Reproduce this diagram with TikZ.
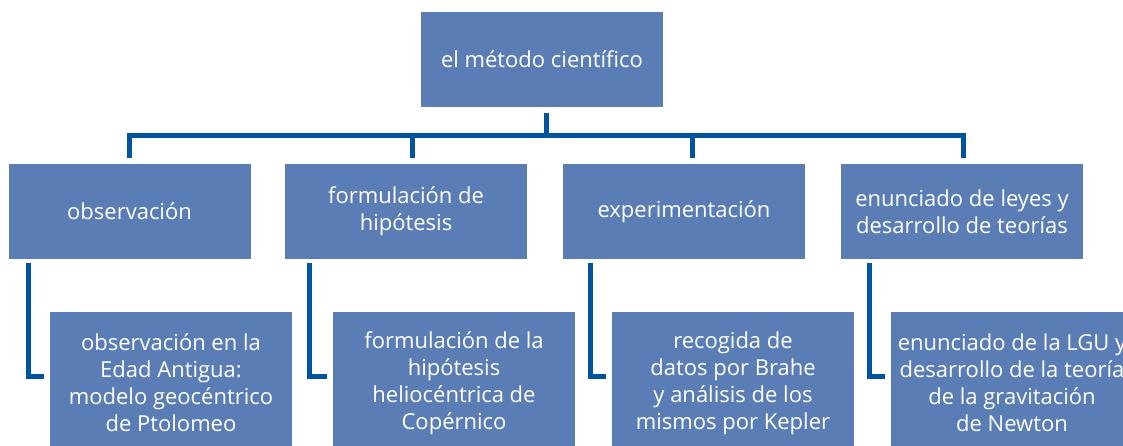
\documentclass[tikz,border=0pt]{standalone}
\usepackage{fontspec}
\setmainfont{Open Sans}
\definecolor{boxblue}{RGB}{91,125,181}
\definecolor{lineblue}{RGB}{0,84,159}
\begin{document}
\begin{tikzpicture}[x=1pt,y=-1pt,
  box/.style={fill=boxblue, text=white, minimum width=242pt, minimum height=95pt, inner sep=0pt, align=center, font=\fontsize{22}{27}\selectfont},
  leaf/.style={box, minimum height=142pt},
  conn/.style={draw=lineblue, line width=5pt, line join=miter, line cap=butt}]
\useasboundingbox (0,0) rectangle (1123,445);
\clip (0,0) rectangle (1123,445);
\node[box] (top) at (542,59.5) {el método científico};
\node[box] (l1) at (129.5,211.5) {observación};
\node[box] (l2) at (406,211.5) {formulación de\\hipótesis};
\node[box] (l3) at (684,211.5) {experimentación};
\node[box] (l4) at (962,211.5) {enunciado de leyes y\\desarrollo de teorías};
\node[leaf] (b1) at (171,383) {observación en la\\Edad Antigua:\\modelo geocéntrico\\de Ptolomeo};
\node[leaf] (b2) at (454,383) {formulación de la\\hipótesis\\heliocéntrica de\\Copérnico};
\node[leaf] (b3) at (733,383) {recogida de\\datos por Brahe\\y análisis de los\\mismos por Kepler};
\node[leaf] (b4) at (1012,383) {enunciado de la LGU y\\desarrollo de la teoría\\de la gravitación\\de Newton};
\coordinate (j) at (546.5,135.5);
\draw[conn] ([xshift=4.5pt,yshift=-6pt]top.south) -- (j);
\draw[conn] ([yshift=6pt]l1.north) |- (j) -| ([xshift=1.5pt,yshift=6pt]l4.north);
\draw[conn] ([xshift=6.5pt,yshift=6pt]l2.north) -- ([xshift=6.5pt]l2.north |- j);
\draw[conn] ([xshift=8.5pt,yshift=6pt]l3.north) -- ([xshift=8.5pt]l3.north |- j);
\draw[conn] ([xshift=20.5pt,yshift=-4pt]l1.south west) |- ([xshift=-6pt,yshift=6.5pt]b1.west);
\draw[conn] ([xshift=24.5pt,yshift=-4pt]l2.south west) |- ([xshift=-6pt,yshift=6.5pt]b2.west);
\draw[conn] ([xshift=28pt,yshift=-4pt]l3.south west) |- ([xshift=-6pt,yshift=6.5pt]b3.west);
\draw[conn] ([xshift=28.5pt,yshift=-4pt]l4.south west) |- ([xshift=-6pt,yshift=6.5pt]b4.west);
\end{tikzpicture}
\end{document}
